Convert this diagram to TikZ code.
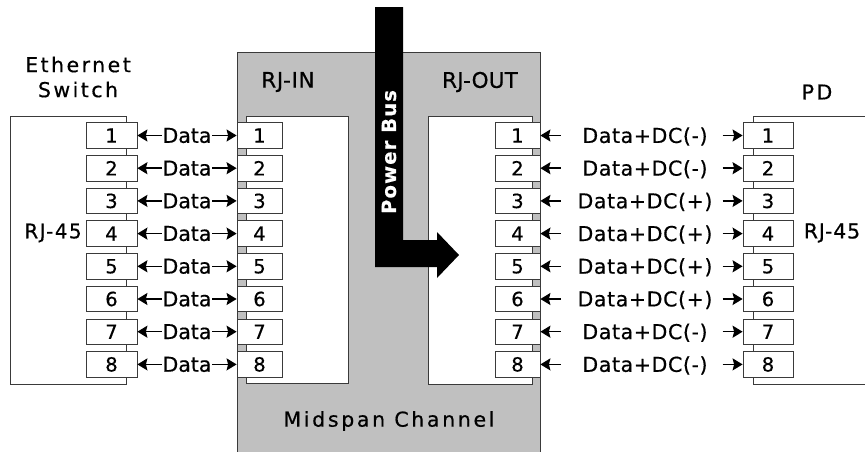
\documentclass[tikz,border=0pt]{standalone}
\usepackage{fontspec}
\setmainfont{DejaVu Sans}[FakeBold=0.5]
\usetikzlibrary{arrows.meta}
\definecolor{midgray}{HTML}{C0C0C0}
\definecolor{edgec}{HTML}{3A3A3A}
\begin{document}
\begin{tikzpicture}[x=1pt,y=-1pt,
  >={Stealth[length=10pt,width=12pt,inset=1.5pt]},
  txt/.style 2 args={inner sep=0pt,font=\fontsize{#1}{25}\selectfont\addfontfeature{LetterSpace=#2}},
  pinbox/.style={draw=edgec,line width=0.8pt,fill=white,minimum height=25.6pt,inner sep=0pt,
    font=\fontsize{19.5}{20}\selectfont},
  pinsw/.style={pinbox,minimum width=51pt},
  pinmid/.style={pinbox,minimum width=45pt},
  pinpd/.style={pinbox,minimum width=50pt},
  housing/.style={draw=edgec,line width=0.8pt,fill=white},
  conn/.style={line width=1.5pt,black}
]
\clip (0,0) rectangle (865,451);
% Midspan housing
\draw[draw=edgec,line width=0.8pt,fill=midgray] (237,52) rectangle (540,470);
% inner white bays
\draw[housing] (246,116) rectangle (348,383);
\draw[housing] (428,116) rectangle (532,384);
% switch box
\draw[housing] (10,116) rectangle (126,384);
% PD box
\fill[white] (753,116) rectangle (870,384);
\draw[draw=edgec,line width=0.8pt] (870,116) -- (753,116) -- (753,384) -- (870,384);

% Power bus arrow
\fill[black] (375,7) -- (403,7) -- (403,240) -- (437,240) -- (437,232) -- (459,255)
  -- (437,278) -- (437,267) -- (375,267) -- cycle;
\node[rotate=90,text=white,inner sep=0pt,
  font=\fontsize{19.5}{20}\selectfont\bfseries\addfontfeature{LetterSpace=6}] (pbus) at (389,152) {Power Bus};

% labels
\node[txt={20.5}{12},align=center] (swlbl) at (78,77) {Ethernet\\Switch};
\node[txt={21.5}{3}] (rjin) at (288,82) {RJ-IN};
\node[txt={21.5}{1}] (rjout) at (480,82) {RJ-OUT};
\node[txt={20.5}{12}] (pdlbl) at (817,92) {PD};
\node[txt={20}{7}] (rj45l) at (53,233) {RJ-45};
\node[txt={20.5}{4}] (rj45r) at (832,233) {RJ-45};
\node[txt={20.5}{13}] (mslbl) at (389,421) {Midspan Channel};

% pins and connectors
\foreach \i/\s in {1/-,2/-,3/+,4/+,5/+,6/+,7/-,8/-}{
  \pgfmathsetmacro{\yy}{135.5+32.7*(\i-1)}
  \node[pinsw]  (sw\i)  at (111.5,\yy) {\i};
  \node[pinmid] (in\i)  at (259.5,\yy) {\i};
  \node[pinmid] (out\i) at (517.5,\yy) {\i};
  \node[pinpd]  (pd\i)  at (768,\yy)   {\i};
  \draw[conn,<->] (sw\i.east) -- (in\i.west)
    node[midway,fill=white,inner xsep=0.5pt,inner ysep=0pt,
      font=\fontsize{20.5}{22}\selectfont] (dl\i) {Data};
  \draw[conn,<-] (out\i.east) -- ([xshift=21pt]out\i.east);
  \draw[conn,->] ([xshift=-20pt]pd\i.west) -- (pd\i.west);
  \node[txt={20.5}{3}] (dc\i) at (645,\yy+1) {Data+DC(\s)};
}
\end{tikzpicture}
\end{document}
